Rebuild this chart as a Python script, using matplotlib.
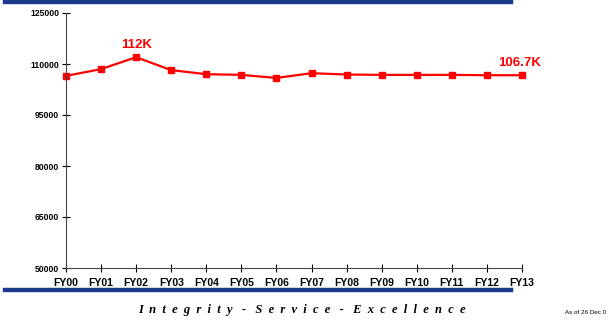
import numpy as np
import matplotlib.pyplot as plt

# datos del grafico
years = ["FY00", "FY01", "FY02", "FY03", "FY04", "FY05", "FY06",
         "FY07", "FY08", "FY09", "FY10", "FY11", "FY12", "FY13"]
values = [106500, 108500, 112000, 108200, 107000, 106800, 105900,
          107300, 106900, 106800, 106800, 106800, 106700, 106700]
yticks = [50000, 65000, 80000, 95000, 110000, 125000]

plt.rcParams['font.family'] = ['Liberation Sans', 'DejaVu Sans']

fig = plt.figure(figsize=(6.14, 3.2), dpi=100)
ax = fig.add_axes([66/614, 1 - 268/320, (522 - 66)/614, (268 - 13)/320])

x = np.arange(len(years))
ax.plot(x, values, color='#ff0000', lw=1.6, marker='s', ms=4.5, clip_on=False)

ax.set_xlim(0, len(years) - 1)
ax.set_ylim(50000, 125000)
ax.set_xticks(x)
ax.set_xticklabels(years, fontsize=7.5, fontweight='bold')
ax.set_yticks(yticks)
ax.set_yticklabels([str(v) for v in yticks], fontsize=6.2, fontweight='bold')
ax.tick_params(direction='inout', length=6, width=0.8)
ax.tick_params(axis='x', pad=4)
ax.tick_params(axis='y', pad=2)
for s in ['top', 'right']:
    ax.spines[s].set_visible(False)
for s in ['left', 'bottom']:
    ax.spines[s].set_color('#444444')

# etiquetas de valores
ax.annotate("112K", (2, values[2]), xytext=(0, 4.5), textcoords='offset points',
            ha='center', va='bottom', color='#ff0000', fontsize=9.5, fontweight='bold')
ax.annotate("106.7K", (13, values[13]), xytext=(-2, 4.5), textcoords='offset points',
            ha='center', va='bottom', color='#ff0000', fontsize=9.5, fontweight='bold')

# barras azules
fig.add_artist(plt.Line2D([5/614, 511/614], [1 - 2/320, 1 - 2/320],
                          color='#1c3a8c', lw=3.2))
fig.add_artist(plt.Line2D([5/614, 511/614], [1 - 290/320, 1 - 290/320],
                          color='#1c3a8c', lw=3.2))

lema = "   -   ".join("  ".join(w) for w in ["Integrity", "Service", "Excellence"])
fig.text(302/614, 1 - 310/320, lema,
         ha='center', va='center', fontsize=9, fontweight='bold', style='italic',
         family='Liberation Serif')
fig.text(565/614, 1 - 313/320, "As of 26 Dec 0", ha='left', va='center', fontsize=4.5)

fig.savefig("out.png", dpi=100)
